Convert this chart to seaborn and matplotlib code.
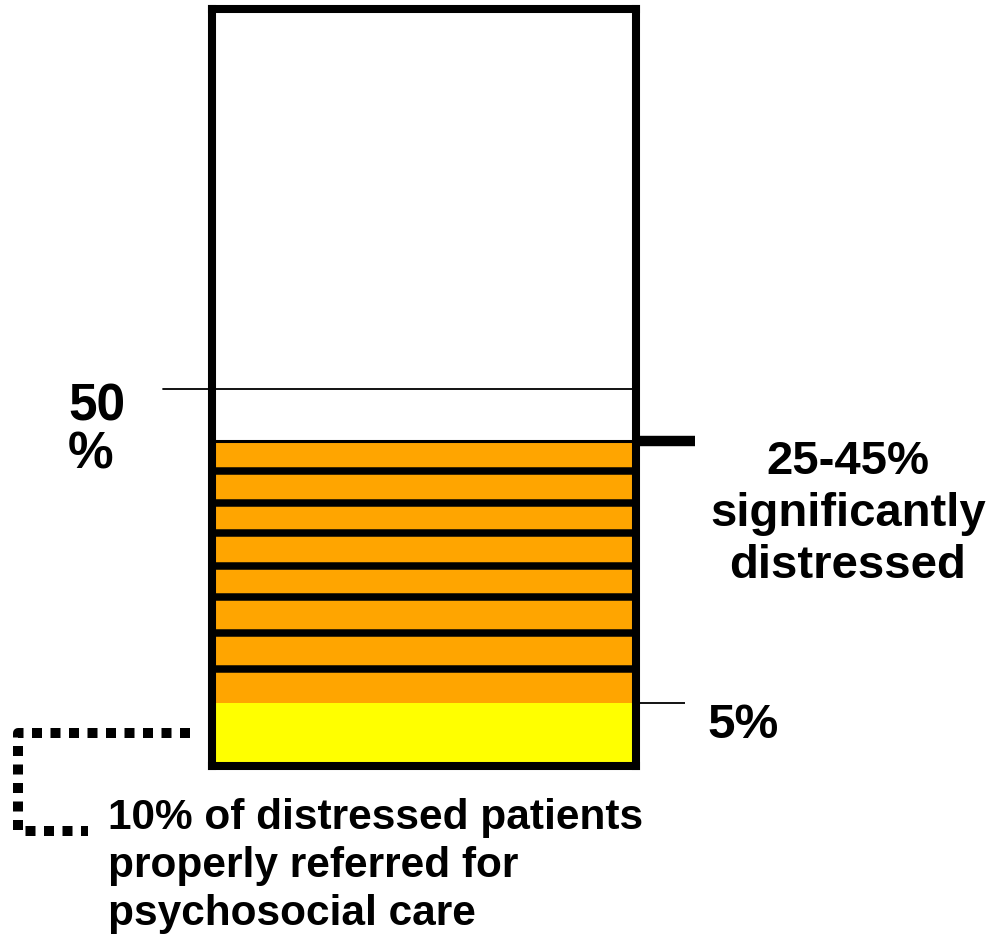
import matplotlib
matplotlib.use("Agg")
import matplotlib.pyplot as plt
import seaborn as sns
import pandas as pd

sns.set_theme(style="white")
plt.rcParams["font.family"] = ["Liberation Sans", "DejaVu Sans"]

# Share of patients (%), stacked bands of the column
band_names = ["referred", "distressed"]
band_bottoms = [-4.0, 5.0]
band_tops = [5.0, 42.5]
band_colors = ["#FFFF00", "#FFA500"]

# Hatch rules across the distressed band (%)
stripe_levels = [38.2, 33.7, 29.3, 24.6, 20.2, 15.0, 9.9]

# Reference levels (%)
half_level = 50
referred_level = 5
distressed_top = 42.5

W, H = 992, 936
fig = plt.figure(figsize=(W / 100, H / 100), dpi=100)
box_l, box_r, box_t, box_b = 212, 636, 9, 766
ax = fig.add_axes([box_l / W, 1 - box_b / H, (box_r - box_l) / W, (box_b - box_t) / H])

df = pd.DataFrame({
    "band": band_names,
    "height": [t - b for t, b in zip(band_tops, band_bottoms)],
    "bottom": band_bottoms,
})
df["col"] = "all"
for name, color, (_, row) in zip(band_names, band_colors, df.iterrows()):
    sub = df[df["band"] == name]
    sns.barplot(data=sub, x="col", y="height", bottom=row["bottom"], color=color,
                width=1.0, saturation=1, edgecolor="none", linewidth=0, ax=ax)

ax.set_xlim(-0.5, 0.5)
ax.set_ylim(-4.03, 104.46)
ax.set_xlabel("")
ax.set_ylabel("")
ax.set_xticks([])
ax.set_yticks([])
for sp in ax.spines.values():
    sp.set_visible(True)
    sp.set_color("black")
    sp.set_linewidth(5.8)
    sp.set_zorder(10)

# horizontal rules inside the distressed band
for lvl in stripe_levels:
    ax.axhline(lvl, color="black", lw=5.4, zorder=5)
ax.axhline(distressed_top, color="black", lw=2.2, zorder=5)

tr = ax.get_yaxis_transform()
# 50% reference line, reaching out to the left of the column
ax.plot([-0.1156, 0.995], [half_level, half_level], color="black", lw=1.3,
        transform=tr, clip_on=False, zorder=4)
# markers on the right side of the column
ax.plot([1.009, 1.139], [distressed_top, distressed_top], color="black", lw=7.5,
        solid_capstyle="butt", transform=tr, clip_on=False)
ax.plot([1.009, 1.116], [referred_level, referred_level], color="black", lw=1.3,
        solid_capstyle="butt", transform=tr, clip_on=False)

# dotted bracket leading to the referral note
def fx(px):
    return px / W
def fy(py):
    return 1 - py / H
bx = [190, 18, 18, 88]
by = [733, 733, 831, 831]
fig.add_artist(plt.Line2D([fx(v) for v in bx], [fy(v) for v in by], color="black",
                          lw=7.2, linestyle=(0, (1.0, 0.85)), dash_capstyle="butt",
                          solid_joinstyle="miter"))

txt = dict(color="black", fontweight="bold")
fig.text(fx(68), fy(431), "50\n%", ha="left", va="center", fontsize=37,
         linespacing=0.98, **txt)
fig.text(fx(848), fy(514), "25-45%\nsignificantly\ndistressed", ha="center",
         va="center", fontsize=34, linespacing=1.24, **txt)
fig.text(fx(707), fy(725), "5%", ha="left", va="center", fontsize=35.5, **txt)
fig.text(fx(108), fy(866), "10% of distressed patients\nproperly referred for\npsychosocial care",
         ha="left", va="center", fontsize=30.5, linespacing=1.26, **txt)

fig.savefig("out.png", dpi=100)
